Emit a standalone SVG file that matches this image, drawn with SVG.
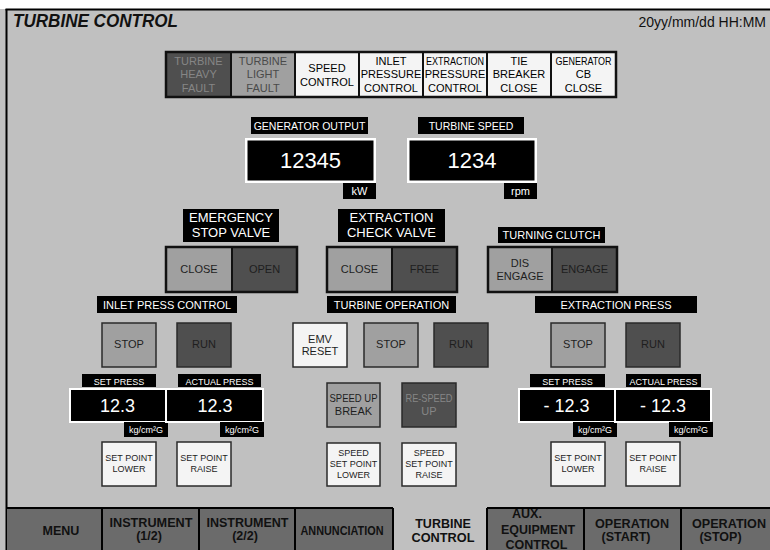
<svg xmlns="http://www.w3.org/2000/svg" width="770" height="550" viewBox="0 0 770 550">
  <style>
    text { font-family: "Liberation Sans", Arial, Helvetica, sans-serif; text-anchor: middle; }
    .w { fill: #ffffff; }
    .k { fill: #1e1e1e; }
    .dim { fill: #868686; }
    .lbl { fill: #000000; }
    .disp { fill: #000000; stroke: #ffffff; stroke-width: 2.5; }
    .b { stroke: #2a2a2a; stroke-width: 1.5; }
    .dark { fill: #4f4f4f; }
    .mid { fill: #a0a0a0; }
    .light { fill: #f4f4f4; }
    .pair { fill: none; stroke: #111111; stroke-width: 2.5; }
    .div { stroke: #111111; stroke-width: 2; }
    .ann { font-size: 11px; }
    .f9 { font-size: 9px; }
    .f11 { font-size: 11px; }
    .f13 { font-size: 13px; }
    .val { font-size: 18px; fill: #ffffff; }
    .big { font-size: 22px; fill: #ffffff; }
    .menu { font-size: 12.5px; font-weight: bold; fill: #111111; }
    .mcell { fill: #6b6b6b; }
  </style>

  <!-- page -->
  <rect x="0" y="0" width="770" height="550" fill="#c0c0c0"/>
  <rect x="0" y="0" width="770" height="9" fill="#ffffff"/>
  <line x1="5.5" y1="9.5" x2="770" y2="9.5" stroke="#000" stroke-width="2"/>
  <line x1="6.5" y1="9" x2="6.5" y2="550" stroke="#000" stroke-width="2"/>

  <!-- header -->
  <g id="header">
    <text x="13" y="26.5" style="text-anchor:start;font-size:18px;font-weight:bold;font-style:italic" fill="#111" textLength="165" lengthAdjust="spacingAndGlyphs">TURBINE CONTROL</text>
    <text x="766" y="26.5" style="text-anchor:end;font-size:14px" fill="#111">20yy/mm/dd HH:MM</text>
  </g>

  <!-- annunciator row -->
  <g id="annunciators">
    <rect x="166" y="52" width="65" height="45" class="dark"/>
    <rect x="231" y="52" width="64" height="45" class="mid"/>
    <rect x="295" y="52" width="321" height="45" class="light"/>
    <g class="div">
      <line x1="231" y1="52" x2="231" y2="97"/>
      <line x1="295" y1="52" x2="295" y2="97"/>
      <line x1="359" y1="52" x2="359" y2="97"/>
      <line x1="423" y1="52" x2="423" y2="97"/>
      <line x1="487" y1="52" x2="487" y2="97"/>
      <line x1="551" y1="52" x2="551" y2="97"/>
    </g>
    <rect x="166" y="52" width="450" height="45" class="pair"/>
    <g class="ann">
      <text x="198.5" y="65" class="dim">TURBINE</text>
      <text x="198.5" y="78" class="dim">HEAVY</text>
      <text x="198.5" y="92" class="dim">FAULT</text>
      <text x="263" y="65" fill="#4a4a4a">TURBINE</text>
      <text x="263" y="78" fill="#4a4a4a">LIGHT</text>
      <text x="263" y="92" fill="#4a4a4a">FAULT</text>
      <text x="327" y="72" class="lbl">SPEED</text>
      <text x="327" y="86" class="lbl">CONTROL</text>
      <text x="391" y="65" class="lbl">INLET</text>
      <text x="391" y="78" class="lbl">PRESSURE</text>
      <text x="391" y="92" class="lbl">CONTROL</text>
      <text x="455" y="65" class="lbl" textLength="58" lengthAdjust="spacingAndGlyphs">EXTRACTION</text>
      <text x="455" y="78" class="lbl">PRESSURE</text>
      <text x="455" y="92" class="lbl">CONTROL</text>
      <text x="519" y="65" class="lbl">TIE</text>
      <text x="519" y="78" class="lbl">BREAKER</text>
      <text x="519" y="92" class="lbl">CLOSE</text>
      <text x="583.5" y="65" class="lbl" textLength="56" lengthAdjust="spacingAndGlyphs">GENERATOR</text>
      <text x="583.5" y="78" class="lbl">CB</text>
      <text x="583.5" y="92" class="lbl">CLOSE</text>
    </g>
  </g>

  <!-- generator output -->
  <g id="generator-output">
    <rect x="251" y="117" width="117" height="17" fill="#000"/>
    <text x="309.5" y="130" class="w" style="font-size:10.5px">GENERATOR OUTPUT</text>
    <rect x="246.25" y="139.25" width="128.5" height="42.5" class="disp"/>
    <text x="310.5" y="168" class="big">12345</text>
    <rect x="343" y="183" width="33" height="16" fill="#000"/>
    <text x="359.5" y="195" class="w f11">kW</text>
  </g>

  <!-- turbine speed -->
  <g id="turbine-speed">
    <rect x="418" y="117" width="106" height="17" fill="#000"/>
    <text x="471" y="130" class="w" style="font-size:10.5px">TURBINE SPEED</text>
    <rect x="408.25" y="139.25" width="127.5" height="42.5" class="disp"/>
    <text x="472" y="168" class="big">1234</text>
    <rect x="504" y="183" width="33" height="16" fill="#000"/>
    <text x="520.5" y="195" class="w f11">rpm</text>
  </g>

  <!-- emergency stop valve -->
  <g id="emergency-stop-valve">
    <rect x="183" y="209" width="96" height="33" fill="#000"/>
    <text x="231" y="222" class="w f13">EMERGENCY</text>
    <text x="231" y="237" class="w f13">STOP VALVE</text>
    <rect x="166" y="247" width="66" height="45" class="mid"/>
    <rect x="232" y="247" width="65" height="45" class="dark"/>
    <line x1="232" y1="247" x2="232" y2="292" class="div"/>
    <rect x="166" y="247" width="131" height="45" class="pair"/>
    <text x="199" y="273" class="k f11">CLOSE</text>
    <text x="264.5" y="273" class="k f11">OPEN</text>
  </g>

  <!-- extraction check valve -->
  <g id="extraction-check-valve">
    <rect x="338" y="209" width="107" height="33" fill="#000"/>
    <text x="391.5" y="222" class="w f13">EXTRACTION</text>
    <text x="391.5" y="237" class="w f13">CHECK VALVE</text>
    <rect x="327" y="247" width="65" height="45" class="mid"/>
    <rect x="392" y="247" width="65" height="45" class="dark"/>
    <line x1="392" y1="247" x2="392" y2="292" class="div"/>
    <rect x="327" y="247" width="130" height="45" class="pair"/>
    <text x="359.5" y="273" class="k f11">CLOSE</text>
    <text x="424.5" y="273" class="k f11">FREE</text>
  </g>

  <!-- turning clutch -->
  <g id="turning-clutch">
    <rect x="498" y="227" width="107" height="16" fill="#000"/>
    <text x="551.5" y="239" class="w f11">TURNING CLUTCH</text>
    <rect x="488" y="247" width="64" height="45" class="mid"/>
    <rect x="552" y="247" width="65" height="45" class="dark"/>
    <line x1="552" y1="247" x2="552" y2="292" class="div"/>
    <rect x="488" y="247" width="129" height="45" class="pair"/>
    <text x="520" y="267" class="k f11">DIS</text>
    <text x="520" y="280" class="k f11">ENGAGE</text>
    <text x="584.5" y="273" class="k f11">ENGAGE</text>
  </g>

  <!-- inlet press control -->
  <g id="inlet-press-control">
    <rect x="97" y="296" width="140" height="17" fill="#000"/>
    <text x="167" y="309" class="w f11">INLET PRESS CONTROL</text>
  </g>
  <g id="inlet-stop">
    <rect x="102" y="323" width="54" height="44" class="mid b"/>
    <text x="129" y="348" class="k f11">STOP</text>
  </g>
  <g id="inlet-run">
    <rect x="177" y="323" width="54" height="44" class="dark b"/>
    <text x="204" y="348" class="k f11">RUN</text>
  </g>
  <g id="inlet-set-press">
    <rect x="82" y="374" width="74" height="13" fill="#000"/>
    <text x="119" y="384.5" class="w f9">SET PRESS</text>
    <rect x="70" y="389" width="96" height="33" class="disp" style="stroke-width:2"/>
    <text x="117.5" y="411.5" class="val">12.3</text>
    <rect x="124" y="422" width="44" height="15" fill="#000"/>
    <text x="146" y="433" class="w f9">kg/cm²G</text>
  </g>
  <g id="inlet-actual-press">
    <rect x="178" y="374" width="83" height="13" fill="#000"/>
    <text x="219.5" y="384.5" class="w f9">ACTUAL PRESS</text>
    <rect x="166" y="389" width="97" height="33" class="disp" style="stroke-width:2"/>
    <text x="215" y="411.5" class="val">12.3</text>
    <rect x="220" y="422" width="44" height="15" fill="#000"/>
    <text x="242" y="433" class="w f9">kg/cm²G</text>
  </g>
  <g id="inlet-sp-lower">
    <rect x="102" y="442" width="54" height="44" class="light b"/>
    <text x="129" y="461" class="k f9">SET POINT</text>
    <text x="129" y="472" class="k f9">LOWER</text>
  </g>
  <g id="inlet-sp-raise">
    <rect x="177" y="442" width="54" height="44" class="light b"/>
    <text x="204" y="461" class="k f9">SET POINT</text>
    <text x="204" y="472" class="k f9">RAISE</text>
  </g>

  <!-- turbine operation -->
  <g id="turbine-operation">
    <rect x="327" y="296" width="129" height="17" fill="#000"/>
    <text x="391.5" y="309" class="w f11">TURBINE OPERATION</text>
  </g>
  <g id="emv-reset">
    <rect x="293" y="323" width="54" height="44" class="light b"/>
    <text x="320" y="343" class="k f11">EMV</text>
    <text x="320" y="355" class="k f11">RESET</text>
  </g>
  <g id="turbine-stop">
    <rect x="364" y="323" width="54" height="44" class="mid b"/>
    <text x="391" y="348" class="k f11">STOP</text>
  </g>
  <g id="turbine-run">
    <rect x="434" y="323" width="54" height="44" class="dark b"/>
    <text x="461" y="348" class="k f11">RUN</text>
  </g>
  <g id="speed-up-break">
    <rect x="327" y="383" width="53" height="44" class="mid b"/>
    <text x="353.5" y="402" class="k f11" textLength="48" lengthAdjust="spacingAndGlyphs">SPEED UP</text>
    <text x="353.5" y="415" class="k f11">BREAK</text>
  </g>
  <g id="re-speed-up">
    <rect x="402" y="383" width="54" height="44" class="dark b"/>
    <text x="429" y="402" class="dim f11" textLength="47" lengthAdjust="spacingAndGlyphs">RE-SPEED</text>
    <text x="429" y="415" class="dim f11">UP</text>
  </g>
  <g id="speed-sp-lower">
    <rect x="327" y="443" width="53" height="43" class="light b"/>
    <text x="353.5" y="456" class="k f9">SPEED</text>
    <text x="353.5" y="467" class="k f9">SET POINT</text>
    <text x="353.5" y="478" class="k f9">LOWER</text>
  </g>
  <g id="speed-sp-raise">
    <rect x="402" y="443" width="54" height="43" class="light b"/>
    <text x="429" y="456" class="k f9">SPEED</text>
    <text x="429" y="467" class="k f9">SET POINT</text>
    <text x="429" y="478" class="k f9">RAISE</text>
  </g>

  <!-- extraction press -->
  <g id="extraction-press">
    <rect x="535" y="296" width="162" height="17" fill="#000"/>
    <text x="616" y="309" class="w f11">EXTRACTION PRESS</text>
  </g>
  <g id="extraction-stop">
    <rect x="551" y="323" width="54" height="44" class="mid b"/>
    <text x="578" y="348" class="k f11">STOP</text>
  </g>
  <g id="extraction-run">
    <rect x="626" y="323" width="54" height="44" class="dark b"/>
    <text x="653" y="348" class="k f11">RUN</text>
  </g>
  <g id="extraction-set-press">
    <rect x="530" y="374" width="75" height="13" fill="#000"/>
    <text x="567.5" y="384.5" class="w f9">SET PRESS</text>
    <rect x="519" y="389" width="96" height="33" class="disp" style="stroke-width:2"/>
    <text x="566.5" y="411.5" class="val">- 12.3</text>
    <rect x="573" y="422" width="44" height="15" fill="#000"/>
    <text x="595" y="433" class="w f9">kg/cm²G</text>
  </g>
  <g id="extraction-actual-press">
    <rect x="626" y="374" width="75" height="13" fill="#000"/>
    <text x="663.5" y="384.5" class="w f9">ACTUAL PRESS</text>
    <rect x="615" y="389" width="96" height="33" class="disp" style="stroke-width:2"/>
    <text x="663" y="411.5" class="val">- 12.3</text>
    <rect x="669" y="422" width="44" height="15" fill="#000"/>
    <text x="691" y="433" class="w f9">kg/cm²G</text>
  </g>
  <g id="extraction-sp-lower">
    <rect x="551" y="442" width="54" height="44" class="light b"/>
    <text x="578" y="461" class="k f9">SET POINT</text>
    <text x="578" y="472" class="k f9">LOWER</text>
  </g>
  <g id="extraction-sp-raise">
    <rect x="626" y="442" width="54" height="44" class="light b"/>
    <text x="653" y="461" class="k f9">SET POINT</text>
    <text x="653" y="472" class="k f9">RAISE</text>
  </g>

  <!-- menu bar -->
  <g id="menu-bar">
    <rect x="7" y="508" width="386" height="42" class="mcell"/>
    <rect x="487" y="508" width="283" height="42" class="mcell"/>
    <g stroke="#000" stroke-width="2">
      <line x1="6" y1="508" x2="393" y2="508"/>
      <line x1="487" y1="508" x2="770" y2="508"/>
      <line x1="102" y1="508" x2="102" y2="550"/>
      <line x1="199" y1="508" x2="199" y2="550"/>
      <line x1="295" y1="508" x2="295" y2="550"/>
      <line x1="393" y1="508" x2="393" y2="550"/>
      <line x1="487" y1="508" x2="487" y2="550"/>
      <line x1="584" y1="508" x2="584" y2="550"/>
      <line x1="681" y1="508" x2="681" y2="550"/>
    </g>
  </g>
  <g id="menu-menu">
    <text x="61" y="535" class="menu">MENU</text>
  </g>
  <g id="menu-instrument-1">
    <text x="151" y="526.5" class="menu" textLength="83" lengthAdjust="spacingAndGlyphs">INSTRUMENT</text>
    <text x="149" y="539.5" class="menu">(1/2)</text>
  </g>
  <g id="menu-instrument-2">
    <text x="247.5" y="526.5" class="menu" textLength="82" lengthAdjust="spacingAndGlyphs">INSTRUMENT</text>
    <text x="245" y="539.5" class="menu">(2/2)</text>
  </g>
  <g id="menu-annunciation">
    <text x="342" y="535" class="menu" textLength="83" lengthAdjust="spacingAndGlyphs">ANNUNCIATION</text>
  </g>
  <g id="menu-turbine-control">
    <text x="443" y="527.5" class="menu">TURBINE</text>
    <text x="443" y="541.5" class="menu" textLength="63" lengthAdjust="spacingAndGlyphs">CONTROL</text>
  </g>
  <g id="menu-aux-equipment">
    <text x="527" y="517.5" class="menu">AUX.</text>
    <text x="538" y="533.5" class="menu" textLength="74" lengthAdjust="spacingAndGlyphs">EQUIPMENT</text>
    <text x="536.5" y="548.5" class="menu">CONTROL</text>
  </g>
  <g id="menu-operation-start">
    <text x="632" y="527.5" class="menu" textLength="74" lengthAdjust="spacingAndGlyphs">OPERATION</text>
    <text x="626" y="540.5" class="menu">(START)</text>
  </g>
  <g id="menu-operation-stop">
    <text x="729" y="527.5" class="menu" textLength="74" lengthAdjust="spacingAndGlyphs">OPERATION</text>
    <text x="720.5" y="540.5" class="menu">(STOP)</text>
  </g>
</svg>
